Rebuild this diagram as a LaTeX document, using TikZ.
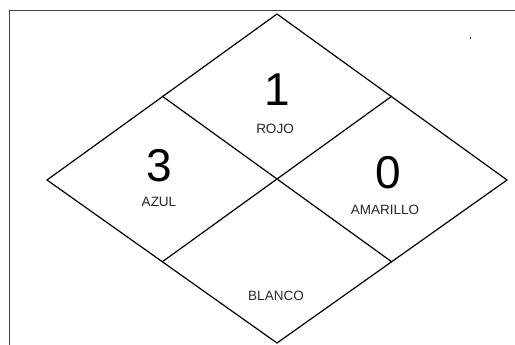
\documentclass[tikz,border=0pt]{standalone}
\usepackage{fontspec}
\setmainfont{Liberation Sans}
\begin{document}
\begin{tikzpicture}[x=1pt,y=-1pt,
  edge/.style={draw=black,line width=1.2pt,line join=miter},
  num/.style={font=\fontsize{46}{46}\selectfont,inner sep=0pt},
  lab/.style={font=\fontsize{13.5}{13.5}\selectfont,inner sep=0pt,text=black!85},
  frameline/.style={draw=black!75,line width=1pt}]
\useasboundingbox (0,0) rectangle (515,345);
% frame (top and left visible)
\coordinate (F0) at (9.5,345);
\coordinate (F1) at (9.5,11);
\coordinate (F2) at (515,11);
\draw[frameline] (F0) -- (F1) -- (F2);
% diamond
\coordinate (T) at (277,14);
\coordinate (R) at (507,180);
\coordinate (B) at (277,343);
\coordinate (L) at (47,180);
\coordinate (ULm) at (162,96);
\coordinate (URm) at (392,96);
\coordinate (LLm) at (162,262);
\coordinate (LRm) at (392,262);
\draw[edge] (T) -- (R) -- (B) -- (L) -- cycle;
\draw[edge] (ULm) -- (LRm);
\draw[edge] (URm) -- (LLm);
% texts
\node[num] (n1) at (277,90) {1};
\node[lab] (rojo) at (275,129) {ROJO};
\node[num] (n3) at (159,166) {3};
\node[lab] (azul) at (159,202) {AZUL};
\node[num] (n0) at (388,173) {0};
\node[lab] (amar) at (385,209.5) {AMARILLO};
\node[lab] (blanco) at (276,296) {BLANCO};
% stray dot
\fill[black!70] (469.5,37.5) rectangle (471,39);
\end{tikzpicture}
\end{document}
